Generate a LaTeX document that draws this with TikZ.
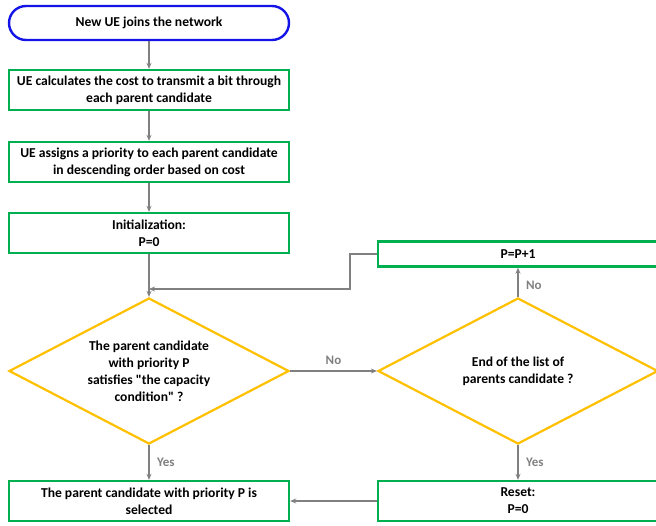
\documentclass[tikz,border=0pt]{standalone}
\usepackage{fontspec}
\setmainfont{Carlito}[Ligatures=TeXOff]
\usetikzlibrary{shapes.geometric,arrows.meta}
\definecolor{boxgreen}{RGB}{0,176,80}
\definecolor{startblue}{RGB}{20,20,230}
\definecolor{decgold}{RGB}{255,192,0}
\definecolor{linegray}{RGB}{128,128,128}
\tikzset{
  stepbox/.style={draw=boxgreen, line width=2.4pt, minimum width=280pt, minimum height=40pt,
    inner sep=0pt, align=center, font=\bfseries\fontsize{13.6}{17}\selectfont},
  startbox/.style={stepbox, draw=startblue, minimum height=34pt, rounded corners=17pt},
  decision/.style={diamond, draw=decgold, line width=2.2pt, aspect=1.9, inner sep=0pt,
    minimum width=280pt, minimum height=146pt, align=center, font=\bfseries\fontsize{13.6}{17}\selectfont},
  flow/.style={draw=linegray, line width=1.6pt, -{Stealth[length=6pt,width=5pt]}},
  answer/.style={text=linegray, font=\bfseries\fontsize{13}{15}\selectfont}
}
\begin{document}
\begin{tikzpicture}[x=1pt, y=-1pt]
		\useasboundingbox (0,0) rectangle (656,525);
		% left column
		\node[startbox] (start) at (149,23) {New UE joins the network};
		\node[stepbox] (cost) at (149,90) {UE calculates the cost to transmit a bit through\\each parent candidate};
		\node[stepbox] (prio) at (149,162) {UE assigns a priority to each parent candidate\\in descending order based on cost};
		\node[stepbox] (init) at (149,233) {Initialization:\\P=0};
		\node[decision] (check) at (149,371) {The parent candidate\\with priority P\\satisfies "the capacity\\condition" ?};
		\node[stepbox] (select) at (149,501) {The parent candidate with priority P is\\selected};
		% right column
		\node[stepbox, minimum height=25pt] (incr) at (518,254) {P=P+1};
		\node[decision] (endlist) at (518,371) {End of the list of\\parents candidate ?};
		\node[stepbox] (reset) at (518,501) {Reset:\\P=0};
		\coordinate (join) at (149,289);
		% connectors
		\draw[flow] (start) -- (cost);
		\draw[flow] (cost) -- (prio);
		\draw[flow] (prio) -- (init);
		\draw[flow] (init) -- (check);
		\draw[flow] (incr.west) -- ++(-27,0) |- (join);
		\draw[flow] (check.east) -- node[answer, above=2pt] {No} (endlist.west);
		\draw[flow] (endlist.north) -- node[answer, right=4pt, pos=0.4] {No} (incr.south);
		\draw[flow] (endlist.south) -- node[answer, right=4pt] {Yes} (reset.north);
		\draw[flow] (check.south) -- node[answer, right=4pt] {Yes} (select.north);
		\draw[flow] (reset.west) -- (select.east);
\end{tikzpicture}
\end{document}
